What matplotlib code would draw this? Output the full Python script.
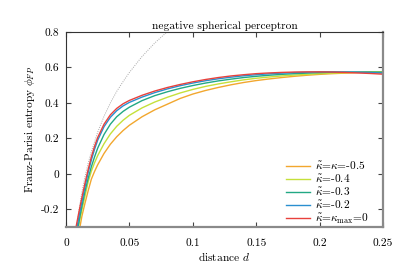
import numpy as np
import matplotlib
matplotlib.use('Agg')
import matplotlib.pyplot as plt

plt.rcParams['font.family'] = 'serif'
plt.rcParams['font.serif'] = ['cmr10', 'DejaVu Serif']
plt.rcParams['mathtext.fontset'] = 'cm'
plt.rcParams['axes.unicode_minus'] = False

# distance d, shared by the coloured curves
d = [0.007, 0.008, 0.009, 0.010, 0.011, 0.0125, 0.015, 0.0175, 0.02, 0.0225, 0.025,
     0.03, 0.035, 0.04, 0.045, 0.05, 0.06, 0.07, 0.08, 0.09, 0.10, 0.11, 0.12, 0.13,
     0.14, 0.15, 0.16, 0.17, 0.18, 0.19, 0.20, 0.21, 0.22, 0.23, 0.24, 0.25]

phi_k05 = [-0.50, -0.45, -0.40, -0.35, -0.30, -0.24, -0.165, -0.095, -0.03, 0.013, 0.051,
           0.115, 0.167, 0.209, 0.244, 0.274, 0.322, 0.361, 0.393, 0.425, 0.45, 0.47, 0.487, 0.502,
           0.515, 0.526, 0.535, 0.543, 0.55, 0.556, 0.561, 0.565, 0.568, 0.571, 0.574, 0.576]
phi_k04 = [-0.42, -0.37, -0.33, -0.29, -0.255, -0.205, -0.125, -0.045, 0.015, 0.062, 0.103,
           0.17, 0.225, 0.268, 0.302, 0.33, 0.372, 0.405, 0.432, 0.456, 0.476, 0.493, 0.507, 0.519,
           0.53, 0.539, 0.546, 0.552, 0.557, 0.561, 0.565, 0.568, 0.571, 0.573, 0.575, 0.576]
phi_k03 = [-0.42, -0.37, -0.325, -0.28, -0.24, -0.185, -0.098, -0.025, 0.04, 0.095, 0.145,
           0.222, 0.28, 0.322, 0.352, 0.376, 0.413, 0.441, 0.463, 0.482, 0.498, 0.512, 0.524, 0.534,
           0.543, 0.55, 0.556, 0.561, 0.565, 0.568, 0.571, 0.573, 0.574, 0.574, 0.574, 0.573]
phi_k02 = [-0.37, -0.33, -0.29, -0.25, -0.212, -0.16, -0.072, 0.008, 0.078, 0.138, 0.19,
           0.266, 0.319, 0.356, 0.383, 0.403, 0.433, 0.458, 0.479, 0.497, 0.512, 0.525, 0.536, 0.545,
           0.553, 0.559, 0.564, 0.568, 0.571, 0.573, 0.575, 0.575, 0.574, 0.573, 0.571, 0.568]
phi_k00 = [-0.335, -0.297, -0.26, -0.223, -0.187, -0.135, -0.052, 0.025, 0.095, 0.155, 0.205,
           0.28, 0.333, 0.369, 0.395, 0.414, 0.443, 0.467, 0.487, 0.504, 0.519, 0.532, 0.543, 0.552,
           0.559, 0.565, 0.569, 0.572, 0.574, 0.575, 0.575, 0.574, 0.572, 0.569, 0.566, 0.562]

# dotted reference curve
d_dot = [0.007, 0.008, 0.01, 0.0125, 0.015, 0.0175, 0.02, 0.025, 0.03, 0.035, 0.04, 0.045,
         0.05, 0.06, 0.07, 0.08, 0.085]
phi_dot = [-0.38, -0.32, -0.215, -0.105, -0.015, 0.06, 0.125, 0.235, 0.325, 0.40, 0.465, 0.52,
           0.572, 0.662, 0.738, 0.803, 0.83]

labels = [r'$\tilde{\kappa}$=$\kappa$=-0.5', r'$\tilde{\kappa}$=-0.4', r'$\tilde{\kappa}$=-0.3',
          r'$\tilde{\kappa}$=-0.2', r'$\tilde{\kappa}$=$\kappa_{\rm max}$=0']
colors = ['#f2a72e', '#c5e03a', '#22a884', '#2a8fd0', '#e8413c']
series = [phi_k05, phi_k04, phi_k03, phi_k02, phi_k00]

xticks = [0, 0.05, 0.1, 0.15, 0.2, 0.25]
xticklabels = ['0', '0.05', '0.1', '0.15', '0.2', '0.25']
yticks = [-0.2, 0, 0.2, 0.4, 0.6, 0.8]
yticklabels = ['-0.2', '0', '0.2', '0.4', '0.6', '0.8']

fs = 8.2
fig = plt.figure(figsize=(4.07, 2.71), dpi=100)
ax = fig.add_axes([66/407, 1-227/271, (383-66)/407, (227-32)/271])

ax.plot(d_dot, phi_dot, color='#a8a8a8', lw=0.7, ls=(0, (1, 1.3)))
for y, c, lab in zip(series, colors, labels):
    ax.plot(d, y, color=c, lw=1.0, label=lab)

ax.set_xlim(0, 0.25)
ax.set_ylim(-0.3, 0.8)
ax.set_xticks(xticks)
ax.set_xticklabels(xticklabels)
ax.set_yticks(yticks)
ax.set_yticklabels(yticklabels)
ax.tick_params(direction='in', length=3.5, width=0.8, top=True, right=True,
               labelsize=fs, colors='#444444', labelcolor='black')
ax.tick_params(axis='x', pad=8)
ax.tick_params(axis='y', pad=5)

for s in ['left', 'top']:
    ax.spines[s].set_color('#333333')
    ax.spines[s].set_linewidth(0.8)
for s in ['right', 'bottom']:
    ax.spines[s].set_color('#8a8a8a')
    ax.spines[s].set_linewidth(1.6)

ax.set_xlabel(r'distance $d$', fontsize=fs, labelpad=2)
ax.set_ylabel(r'Franz-Parisi entropy $\phi_{FP}$', fontsize=fs, labelpad=3)
ax.set_title('negative spherical perceptron', fontsize=fs, pad=2)

ax.legend(loc='lower right', bbox_to_anchor=(0.955, 0.005), frameon=False, fontsize=fs,
          handlelength=2.1, handletextpad=0.45, labelspacing=0.0, borderaxespad=0.0,
          borderpad=0.0)

fig.savefig('out.png', dpi=100)
